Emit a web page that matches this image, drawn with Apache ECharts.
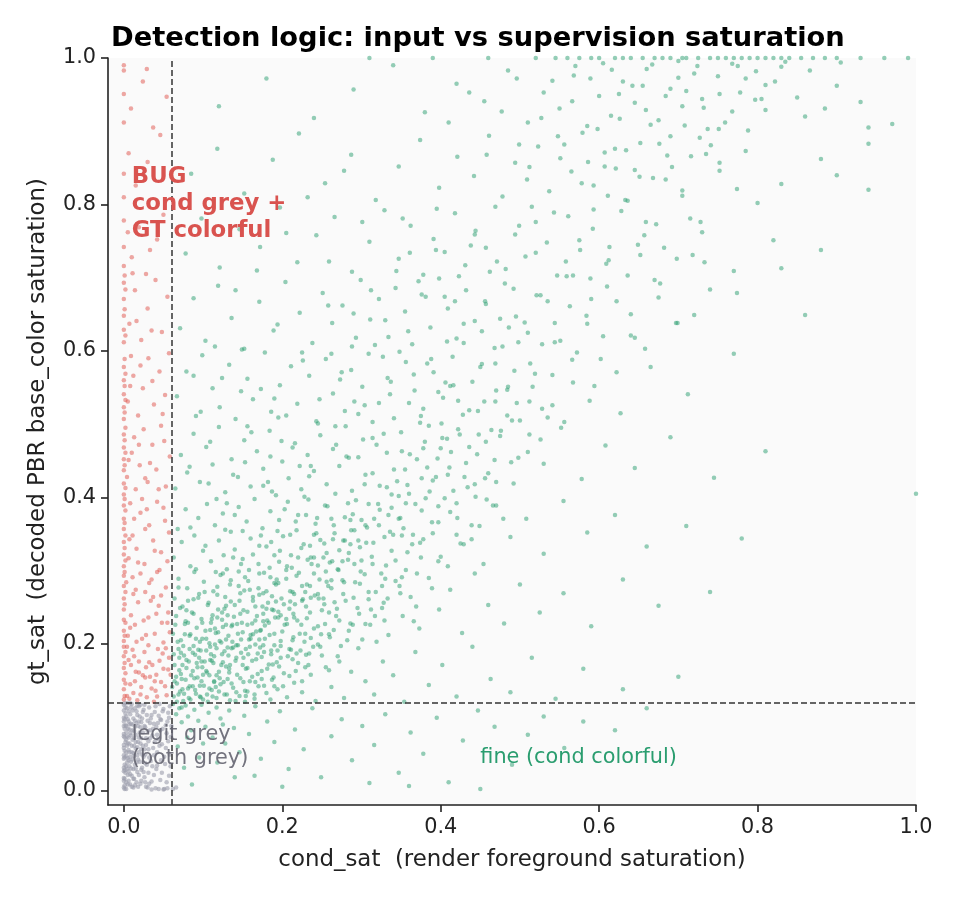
<!DOCTYPE html>
<html>
<head>
<meta charset="utf-8">
<script src="https://cdn.jsdelivr.net/npm/echarts@6/dist/echarts.min.js"></script>
<style>
html,body{margin:0;padding:0;background:#fff;}
#myChart{width:960px;height:900px;}
</style>
</head>
<body>
<div id="myChart"></div>
<script>
// ticks and thresholds
var xTicks = [0, 0.2, 0.4, 0.6, 0.8, 1.0];
var yTicks = [0, 0.2, 0.4, 0.6, 0.8, 1.0];
var condThresh = 0.06;
var gtThresh = 0.12;

// legit grey: cond grey and GT grey
var greyPts = [
[0,0.004],[0,0.013],[0,0.017],[0,0.026],[0,0.031],[0,0.043],[0,0.048],[0,0.058],[0,0.062],[0,0.074],[0,0.077],[0,0.088],[0,0.094],[0,0.099],[0,0.109],[0,0.117],
[0.003,0.002],[0.005,0.021],[0.004,0.038],[0.006,0.055],[0.003,0.069],[0.007,0.083],[0.005,0.097],[0.004,0.112],[0.008,0.008],[0.009,0.03],[0.008,0.046],[0.01,0.061],[0.009,0.075],[0.011,0.09],[0.008,0.104],[0.01,0.118],
[0.012,0.004],[0.013,0.016],[0.014,0.035],[0.012,0.051],[0.015,0.066],[0.013,0.081],[0.014,0.095],[0.016,0.108],[0.017,0.025],[0.018,0.042],[0.017,0.059],[0.019,0.072],[0.018,0.088],[0.02,0.101],[0.019,0.115],
[0.021,0.009],[0.022,0.028],[0.023,0.049],[0.021,0.064],[0.024,0.079],[0.022,0.093],[0.025,0.11],[0.026,0.018],[0.027,0.037],[0.026,0.056],[0.028,0.071],[0.027,0.086],[0.029,0.103],[0.03,0.004],
[0.031,0.024],[0.032,0.045],[0.031,0.067],[0.033,0.082],[0.034,0.098],[0.032,0.113],[0.035,0.012],[0.036,0.033],[0.037,0.058],[0.036,0.075],[0.038,0.091],[0.039,0.107],
[0.04,0.003],[0.041,0.029],[0.042,0.052],[0.043,0.07],[0.041,0.087],[0.044,0.102],[0.045,0.118],[0.046,0.014],[0.047,0.041],[0.048,0.063],[0.049,0.084],[0.047,0.096],[0.05,0.111],
[0.051,0.002],[0.052,0.036],[0.053,0.058],[0.054,0.078],[0.055,0.094],[0.056,0.106],[0.057,0.02],[0.058,0.049],[0.059,0.073],[0.058,0.115],
[0.035,0.001],[0.044,0.002],[0.05,0.001],[0.055,0.003],[0.062,0.002],[0.066,0.004],
[0.001,0.007],[0.002,0.024],[0.001,0.045],[0.002,0.066],[0.001,0.084],[0.002,0.105],[0.006,0.013],[0.007,0.033],[0.006,0.072],[0.007,0.09],[0.011,0.042],[0.012,0.098],
[0.015,0.057],[0.016,0.011],[0.02,0.079],[0.023,0.031],[0.024,0.107],[0.028,0.062],[0.033,0.092],[0.038,0.021],[0.042,0.076],[0.046,0.097],[0.003,0.052],[0.009,0.113],
[0.014,0.087],[0.018,0.005],[0.025,0.046],[0.03,0.081],[0.004,0.029],[0.005,0.084],[0.01,0.02],[0.011,0.069],[0.016,0.038],[0.019,0.094],[0.022,0.056],[0.027,0.011],
[0.002,0.089],[0.004,0.061],[0.006,0.041],[0.008,0.119],[0.012,0.029],[0.013,0.061],[0.017,0.103],[0.021,0.117],[0.005,0.008],[0.003,0.079],[0.001,0.035],[0.002,0.113],
[0.001,0.002],[0.001,0.016],[0.001,0.028],[0.001,0.054],[0.001,0.072],[0.001,0.097],[0.001,0.119],[0.003,0.011],[0.003,0.033],[0.003,0.047],[0.003,0.088],[0.003,0.101],
[0.004,0.074],[0.004,0.119],[0.005,0.044],[0.005,0.064],[0.006,0.026],[0.006,0.094],[0.006,0.108],[0.007,0.052],[0.007,0.064],[0.008,0.022],[0.008,0.078],[0.009,0.039],
[0.009,0.091],[0.01,0.005],[0.01,0.052],[0.011,0.082],[0.011,0.109],[0.012,0.016],[0.013,0.047],[0.013,0.071],[0.014,0.007],[0.014,0.112],[0.015,0.03],[0.015,0.076],
[0.016,0.092],[0.017,0.048],[0.017,0.116],[0.018,0.066],[0.019,0.021],[0.019,0.052],[0.02,0.039],[0.021,0.086],[0.022,0.071],[0.022,0.013],[0.023,0.098],[0.024,0.061],
[0.025,0.025],[0.026,0.088],[0.026,0.117],[0.027,0.049],[0.028,0.005],[0.029,0.035],[0.03,0.095],[0.031,0.056],[0.032,0.009],[0.033,0.071],[0.034,0.04],[0.035,0.103],
[0.037,0.084],[0.038,0.048],[0.039,0.066],[0.04,0.115],[0.042,0.034],[0.043,0.092],[0.045,0.061],[0.046,0.082],[0.048,0.024],[0.049,0.108],[0.051,0.046],[0.053,0.089],
[0.054,0.011],[0.056,0.067],[0.057,0.099],[0.059,0.033],[0.06,0.088]
];

// BUG: cond grey but GT colorful
var redPts = [
[0,0.124],[0,0.138],[0,0.151],[0,0.167],[0,0.183],[0,0.196],[0.004,0.129],[0.008,0.145],[0.012,0.133],[0.015,0.162],[0.019,0.176],[0.022,0.141],[0.026,0.189],[0.029,0.127],
[0.033,0.155],[0.036,0.171],[0.04,0.136],[0.043,0.193],[0.047,0.148],[0.05,0.166],[0.054,0.13],[0.057,0.181],[0.059,0.158],[0.006,0.178],[0.011,0.192],[0.017,0.123],
[0.024,0.157],[0.031,0.198],[0.038,0.121],[0.045,0.177],[0.052,0.142],[0.002,0.16],[0.009,0.171],[0.028,0.168],[0.041,0.158],
[0,0.204],[0,0.218],[0,0.233],[0,0.247],[0,0.262],[0,0.279],[0,0.293],[0.005,0.211],[0.009,0.239],[0.014,0.226],[0.018,0.257],[0.023,0.207],[0.027,0.271],[0.031,0.236],
[0.035,0.288],[0.039,0.214],[0.044,0.252],[0.048,0.229],[0.053,0.277],[0.056,0.243],[0.003,0.284],[0.012,0.268],[0.021,0.296],[0.042,0.298],[0.058,0.216],[0.016,0.203],
[0.034,0.259],[0.05,0.202],
[0,0.306],[0,0.322],[0,0.339],[0,0.357],[0,0.371],[0,0.389],[0.006,0.317],[0.011,0.348],[0.016,0.33],[0.021,0.379],[0.026,0.309],[0.032,0.362],[0.037,0.341],[0.042,0.394],
[0.047,0.325],[0.052,0.368],[0.057,0.352],[0.008,0.392],[0.029,0.384],[0.045,0.301],
[0,0.404],[0,0.419],[0,0.437],[0,0.452],[0,0.468],[0,0.486],[0.004,0.428],[0.01,0.461],[0.015,0.411],[0.02,0.444],[0.025,0.493],[0.03,0.421],[0.036,0.472],[0.041,0.438],
[0.047,0.498],[0.053,0.415],[0.058,0.456],[0.013,0.482],
[0,0.507],[0,0.523],[0,0.541],[0,0.56],[0,0.578],[0.005,0.531],[0.012,0.566],[0.018,0.512],[0.024,0.549],[0.031,0.59],[0.038,0.527],[0.045,0.572],[0.052,0.54],[0.057,0.597],[0.009,0.593],
[0,0.612],[0,0.629],[0,0.648],[0,0.671],[0,0.693],[0.007,0.637],[0.014,0.683],[0.022,0.615],[0.03,0.658],[0.04,0.697],[0.048,0.626],[0.055,0.674],
[0,0.716],[0,0.742],[0,0.778],[0.01,0.728],[0.019,0.769],[0.028,0.705],[0.042,0.752],[0.05,0.786],
[0,0.81],[0,0.842],[0.006,0.87],[0.015,0.826],[0.03,0.858],[0.046,0.895],
[0,0.912],[0,0.951],[0,0.983],[0.009,0.931],[0.024,0.968],[0.037,0.905],[0.054,0.947],[0.029,0.985],[0,0.99],
[0.001,0.129],[0.002,0.146],[0.001,0.174],[0.002,0.189],[0.001,0.211],[0.002,0.229],[0.001,0.254],[0.002,0.271],[0.001,0.298],[0.002,0.314],[0.001,0.331],[0.002,0.348],
[0.001,0.365],[0.002,0.382],[0.001,0.398],[0.002,0.413],[0.001,0.444],[0.002,0.461],[0.001,0.478],[0.002,0.495],[0.001,0.516],[0.002,0.533],[0.001,0.552],[0.002,0.569],
[0.001,0.589],[0.002,0.621],[0.001,0.657],[0.002,0.684],[0.001,0.703],
[0.007,0.125],[0.014,0.149],[0.021,0.131],[0.027,0.154],[0.035,0.139],[0.042,0.128],[0.049,0.187],[0.056,0.165],[0.013,0.183],[0.032,0.175],[0.004,0.196],[0.019,0.161],
[0.053,0.194],[0.039,0.149],
[0.008,0.222],[0.015,0.274],[0.025,0.232],[0.032,0.283],[0.041,0.241],[0.047,0.266],[0.055,0.229],[0.011,0.291],[0.028,0.212],[0.037,0.264],
[0.007,0.343],[0.018,0.311],[0.027,0.357],[0.039,0.327],[0.05,0.386],[0.055,0.313],[0.023,0.398],[0.013,0.371],
[0.006,0.451],[0.019,0.472],[0.033,0.447],[0.044,0.411],[0.051,0.477],[0.027,0.426],
[0.008,0.552],[0.021,0.58],[0.036,0.559],[0.049,0.514],[0.016,0.641],[0.035,0.628],[0.011,0.706],[0.033,0.738],[0.005,0.762]
];

// fine: cond colorful, read band by band
var greenBands = [
// below gt threshold
[0.062,0.118],[0.066,0.104],[0.07,0.112],[0.073,0.093],[0.078,0.116],[0.081,0.101],[0.085,0.082],[0.089,0.11],[0.094,0.095],[0.098,0.117],[0.103,0.087],[0.107,0.106],
[0.112,0.072],[0.117,0.113],[0.122,0.098],[0.128,0.064],[0.133,0.109],[0.139,0.085],[0.146,0.052],[0.152,0.102],[0.158,0.077],[0.166,0.115],[0.173,0.043],[0.181,0.094],
[0.19,0.066],[0.197,0.108],[0.208,0.029],[0.216,0.083],[0.227,0.056],[0.238,0.112],[0.249,0.018],[0.262,0.074],[0.275,0.097],[0.288,0.041],[0.301,0.088],[0.316,0.062],
[0.33,0.104],[0.347,0.024],[0.362,0.079],[0.378,0.05],[0.395,0.099],[0.41,0.011],[0.428,0.068],[0.447,0.109],[0.468,0.087],[0.49,0.035],[0.51,0.076],[0.53,0.101],
[0.556,0.058],[0.58,0.094],[0.62,0.082],[0.66,0.112],[0.068,0.06],[0.076,0.031],[0.095,0.045],[0.086,0.008],[0.14,0.018],[0.2,0.005],[0.118,0.038],[0.165,0.02],
[0.31,0.01],[0.36,0.006],[0.45,0.002],[0.08,0.072],[0.1,0.064],[0.125,0.09],
// 0.12 - 0.2
[0.063,0.128],[0.064,0.171],[0.067,0.146],[0.069,0.193],[0.071,0.135],[0.072,0.159],[0.075,0.122],[0.076,0.184],[0.078,0.151],[0.081,0.139],[0.082,0.176],[0.084,0.124],
[0.087,0.163],[0.088,0.197],[0.091,0.132],[0.093,0.154],[0.095,0.181],[0.097,0.127],[0.099,0.168],[0.101,0.143],[0.104,0.191],[0.106,0.121],[0.108,0.157],[0.111,0.137],
[0.113,0.174],[0.115,0.199],[0.117,0.126],[0.12,0.162],[0.122,0.145],[0.124,0.186],[0.127,0.131],[0.129,0.169],[0.131,0.152],[0.134,0.123],[0.136,0.194],[0.138,0.14],
[0.141,0.177],[0.143,0.158],[0.146,0.129],[0.148,0.188],[0.151,0.148],[0.154,0.166],[0.156,0.135],[0.159,0.196],[0.162,0.155],[0.165,0.125],[0.167,0.179],[0.17,0.142],
[0.174,0.163],[0.177,0.189],[0.18,0.133],[0.183,0.172],[0.187,0.151],[0.19,0.198],[0.194,0.138],[0.198,0.181],[0.202,0.16],[0.206,0.127],[0.211,0.192],[0.215,0.147],
[0.22,0.174],[0.225,0.134],[0.23,0.185],[0.236,0.158],[0.242,0.122],[0.248,0.196],[0.255,0.168],[0.262,0.141],[0.27,0.183],[0.278,0.126],[0.287,0.162],[0.296,0.194],
[0.305,0.149],[0.316,0.131],[0.327,0.176],[0.34,0.157],[0.354,0.121],[0.368,0.189],[0.385,0.144],[0.402,0.171],[0.42,0.128],[0.44,0.196],[0.463,0.152],[0.488,0.134],
[0.515,0.181],[0.545,0.125],[0.58,0.166],[0.63,0.138],[0.7,0.155],[0.073,0.113],[0.09,0.185],[0.11,0.186],[0.125,0.175],[0.153,0.121],[0.185,0.124],[0.098,0.149],
[0.133,0.161],[0.172,0.195],
// 0.2 - 0.3
[0.062,0.214],[0.064,0.262],[0.066,0.238],[0.069,0.289],[0.072,0.205],[0.074,0.251],[0.077,0.227],[0.08,0.276],[0.083,0.211],[0.086,0.243],[0.089,0.298],[0.092,0.222],
[0.095,0.268],[0.098,0.234],[0.101,0.285],[0.104,0.207],[0.107,0.256],[0.11,0.229],[0.113,0.272],[0.116,0.215],[0.119,0.247],[0.122,0.294],[0.125,0.223],[0.128,0.264],
[0.131,0.239],[0.134,0.281],[0.137,0.203],[0.14,0.253],[0.143,0.227],[0.147,0.269],[0.15,0.216],[0.153,0.291],[0.156,0.244],[0.16,0.207],[0.163,0.259],[0.166,0.232],
[0.17,0.276],[0.173,0.219],[0.177,0.297],[0.18,0.248],[0.184,0.212],[0.187,0.265],[0.191,0.236],[0.195,0.283],[0.198,0.204],[0.202,0.254],[0.206,0.227],[0.21,0.272],
[0.214,0.241],[0.218,0.293],[0.222,0.214],[0.226,0.261],[0.231,0.235],[0.235,0.279],[0.24,0.221],[0.245,0.268],[0.25,0.246],[0.255,0.299],[0.26,0.209],[0.266,0.257],
[0.272,0.232],[0.278,0.284],[0.284,0.218],[0.29,0.263],[0.297,0.241],[0.304,0.295],[0.311,0.226],[0.318,0.271],[0.326,0.249],[0.334,0.212],[0.343,0.286],[0.352,0.238],
[0.362,0.264],[0.373,0.221],[0.385,0.29],[0.398,0.247],[0.412,0.274],[0.427,0.215],[0.443,0.296],[0.46,0.253],[0.48,0.228],[0.5,0.281],[0.525,0.243],[0.555,0.269],
[0.59,0.224],[0.63,0.288],[0.675,0.252],[0.74,0.271],[0.108,0.201],[0.145,0.299],[0.176,0.241],[0.228,0.203],[0.262,0.287],[0.118,0.278],[0.192,0.258],
// 0.3 - 0.4
[0.063,0.318],[0.068,0.357],[0.073,0.339],[0.078,0.384],[0.084,0.306],[0.089,0.348],[0.094,0.372],[0.1,0.327],[0.105,0.391],[0.11,0.313],[0.115,0.362],[0.12,0.341],
[0.125,0.378],[0.13,0.302],[0.135,0.353],[0.14,0.329],[0.145,0.387],[0.15,0.316],[0.155,0.367],[0.16,0.344],[0.165,0.398],[0.17,0.309],[0.175,0.358],[0.18,0.333],
[0.185,0.381],[0.19,0.321],[0.196,0.369],[0.201,0.347],[0.207,0.394],[0.212,0.304],[0.218,0.355],[0.224,0.331],[0.23,0.376],[0.236,0.318],[0.242,0.364],[0.248,0.342],
[0.254,0.389],[0.26,0.311],[0.266,0.351],[0.272,0.328],[0.279,0.373],[0.286,0.336],[0.293,0.396],[0.3,0.314],[0.307,0.359],[0.315,0.338],[0.323,0.383],[0.331,0.307],
[0.34,0.349],[0.349,0.372],[0.358,0.325],[0.368,0.391],[0.378,0.343],[0.389,0.366],[0.4,0.319],[0.412,0.38],[0.425,0.337],[0.439,0.362],[0.454,0.309],[0.47,0.389],
[0.488,0.346],[0.508,0.371],[0.53,0.323],[0.555,0.395],[0.585,0.352],[0.62,0.376],[0.66,0.333],[0.71,0.361],[0.78,0.344],[0.117,0.398],[0.158,0.301],[0.203,0.384],
[0.245,0.307],[0.283,0.392],[0.128,0.356],[0.186,0.339],[0.233,0.397],[0.262,0.371],
// 0.4 - 0.5
[0.065,0.412],[0.072,0.458],[0.08,0.434],[0.088,0.487],[0.096,0.421],[0.104,0.469],[0.112,0.445],[0.12,0.496],[0.128,0.407],[0.136,0.452],[0.144,0.428],[0.152,0.478],
[0.16,0.415],[0.168,0.463],[0.176,0.439],[0.184,0.491],[0.192,0.403],[0.2,0.449],[0.208,0.426],[0.216,0.474],[0.224,0.411],[0.232,0.458],[0.24,0.436],[0.248,0.485],
[0.256,0.418],[0.264,0.466],[0.272,0.443],[0.28,0.497],[0.288,0.409],[0.296,0.455],[0.305,0.431],[0.314,0.481],[0.323,0.416],[0.332,0.461],[0.341,0.438],[0.35,0.489],
[0.36,0.405],[0.37,0.452],[0.38,0.476],[0.39,0.423],[0.4,0.467],[0.411,0.441],[0.422,0.493],[0.434,0.414],[0.446,0.459],[0.46,0.433],[0.475,0.484],[0.492,0.419],
[0.51,0.462],[0.53,0.446],[0.552,0.495],[0.578,0.425],[0.608,0.471],[0.645,0.44],[0.69,0.482],[0.745,0.427],[0.81,0.463],[1.0,0.405],[0.156,0.497],[0.228,0.401],
[0.302,0.479],[0.185,0.456],[0.345,0.422],[0.385,0.498],
// 0.5 - 0.6
[0.067,0.538],[0.079,0.572],[0.091,0.511],[0.099,0.594],[0.112,0.549],[0.121,0.523],[0.133,0.581],[0.141,0.507],[0.156,0.562],[0.163,0.534],[0.178,0.598],[0.186,0.517],
[0.197,0.553],[0.211,0.579],[0.219,0.528],[0.234,0.566],[0.243,0.504],[0.255,0.589],[0.264,0.542],[0.279,0.518],[0.287,0.574],[0.301,0.551],[0.309,0.596],[0.322,0.529],
[0.333,0.563],[0.341,0.508],[0.356,0.585],[0.367,0.546],[0.378,0.521],[0.391,0.571],[0.403,0.536],[0.415,0.592],[0.428,0.513],[0.44,0.558],[0.455,0.531],[0.469,0.583],
[0.484,0.547],[0.5,0.505],[0.519,0.569],[0.541,0.526],[0.566,0.588],[0.594,0.552],[0.627,0.515],[0.665,0.578],[0.712,0.541],[0.77,0.596],[0.225,0.598],[0.148,0.545],
[0.296,0.514],[0.348,0.599],[0.412,0.552],[0.273,0.561],[0.195,0.509],
// 0.6 - 0.7
[0.071,0.631],[0.088,0.672],[0.103,0.614],[0.119,0.689],[0.136,0.645],[0.152,0.603],[0.171,0.667],[0.189,0.628],[0.204,0.694],[0.222,0.652],[0.238,0.611],[0.251,0.679],
[0.263,0.638],[0.276,0.662],[0.288,0.606],[0.299,0.697],[0.311,0.643],[0.322,0.671],[0.334,0.619],[0.343,0.686],[0.355,0.654],[0.364,0.609],[0.376,0.677],[0.387,0.632],
[0.398,0.699],[0.409,0.658],[0.42,0.617],[0.432,0.683],[0.443,0.641],[0.456,0.668],[0.468,0.604],[0.481,0.692],[0.495,0.647],[0.51,0.625],[0.526,0.676],[0.544,0.612],
[0.563,0.661],[0.585,0.637],[0.61,0.688],[0.64,0.621],[0.675,0.673],[0.72,0.649],[0.317,0.608],[0.372,0.695],[0.452,0.627],[0.405,0.674],[0.29,0.651],
// 0.7 - 0.8
[0.078,0.733],[0.098,0.781],[0.121,0.714],[0.146,0.766],[0.172,0.742],[0.197,0.796],[0.219,0.721],[0.243,0.758],[0.266,0.783],[0.288,0.708],[0.31,0.749],[0.329,0.792],
[0.347,0.726],[0.362,0.771],[0.378,0.704],[0.391,0.753],[0.405,0.735],[0.418,0.788],[0.431,0.717],[0.444,0.764],[0.457,0.741],[0.469,0.797],[0.482,0.712],[0.494,0.759],
[0.507,0.729],[0.52,0.776],[0.534,0.748],[0.547,0.703],[0.561,0.784],[0.576,0.738],[0.592,0.767],[0.609,0.719],[0.628,0.791],[0.649,0.745],[0.672,0.773],[0.698,0.726],
[0.73,0.762],[0.77,0.709],[0.82,0.751],[0.88,0.738],[0.395,0.794],[0.462,0.708],[0.515,0.797],[0.558,0.722],[0.438,0.744],[0.352,0.781],
// 0.8 - 0.9
[0.085,0.842],[0.118,0.876],[0.152,0.815],[0.188,0.861],[0.221,0.897],[0.254,0.829],[0.287,0.868],[0.318,0.806],[0.347,0.852],[0.374,0.888],[0.398,0.823],[0.421,0.865],
[0.442,0.839],[0.461,0.894],[0.478,0.811],[0.494,0.857],[0.509,0.834],[0.523,0.879],[0.537,0.818],[0.551,0.863],[0.565,0.845],[0.579,0.898],[0.593,0.826],[0.607,0.871],
[0.621,0.849],[0.636,0.805],[0.652,0.884],[0.668,0.836],[0.686,0.867],[0.705,0.819],[0.727,0.891],[0.752,0.846],[0.785,0.873],[0.83,0.828],[0.88,0.862],[0.94,0.883],
[0.548,0.893],[0.611,0.812],[0.586,0.858],[0.499,0.882],[0.93,0.94],[0.97,0.91],[0.94,0.82],[0.9,0.84],
// 0.9 - 1.0
[0.12,0.934],[0.18,0.972],[0.24,0.918],[0.29,0.957],[0.34,0.99],[0.38,0.926],[0.42,0.965],[0.455,0.941],[0.485,0.983],[0.51,0.912],[0.53,0.953],[0.55,0.931],
[0.568,0.976],[0.585,0.907],[0.6,0.948],[0.615,0.921],[0.63,0.968],[0.645,0.939],[0.66,0.985],[0.675,0.915],[0.69,0.958],[0.705,0.934],[0.72,0.979],[0.737,0.903],
[0.752,0.951],[0.768,0.927],[0.785,0.972],[0.805,0.944],[0.83,0.988],[0.86,0.92],[0.9,0.962],[0.94,0.905],
[0.31,1.0],[0.39,1.0],[0.46,1.0],[0.52,1.0],[0.56,1.0],[0.59,1.0],[0.62,1.0],[0.64,1.0],[0.67,1.0],[0.69,1.0],[0.71,1.0],[0.74,1.0],
[0.76,1.0],[0.78,1.0],[0.8,1.0],[0.82,1.0],[0.84,1.0],[0.87,1.0],[0.9,1.0],[0.93,1.0],[0.96,1.0],[0.99,1.0],
[0.605,0.993],[0.655,0.962],[0.7,0.996],[0.73,0.944],[0.775,0.989],[0.81,0.963],[0.57,0.989],[0.625,0.951]
];

// fine: the dense core along the diagonal
var greenCore = [
[0.066,0.155],[0.07,0.181],[0.074,0.138],[0.079,0.167],[0.083,0.193],[0.087,0.142],[0.092,0.174],[0.096,0.203],[0.1,0.158],[0.105,0.131],[0.109,0.219],[0.114,0.149],
[0.118,0.236],[0.123,0.202],[0.127,0.248],[0.132,0.184],[0.137,0.226],[0.142,0.198],[0.147,0.241],[0.152,0.273],[0.157,0.186],[0.162,0.228],[0.166,0.251],[0.171,0.206],
[0.176,0.269],[0.181,0.232],[0.186,0.191],[0.19,0.283],[0.195,0.244],[0.2,0.217],[0.205,0.301],[0.21,0.258],[0.215,0.236],[0.22,0.318],[0.225,0.279],[0.23,0.251],
[0.235,0.334],[0.24,0.296],[0.246,0.262],[0.252,0.318],[0.258,0.279],[0.264,0.343],[0.27,0.302],[0.277,0.268],[0.284,0.324],[0.291,0.355],[0.298,0.282],[0.306,0.338],
[0.314,0.309],[0.322,0.362],[0.33,0.289],[0.338,0.327],[0.347,0.371],[0.356,0.301],[0.365,0.349],[0.375,0.318],[0.386,0.408],[0.397,0.366],[0.409,0.431],[0.42,0.392],
[0.432,0.447],[0.444,0.401],[0.457,0.476],[0.47,0.421],[0.484,0.512],[0.498,0.454],[0.512,0.531],[0.526,0.479],[0.541,0.567],[0.556,0.503],[0.572,0.598],[0.588,0.532],
[0.605,0.62],[0.622,0.571],[0.64,0.65],[0.658,0.603],[0.677,0.692],[0.697,0.638],[0.718,0.731],[0.74,0.684],
[0.061,0.141],[0.063,0.186],[0.065,0.226],[0.067,0.121],[0.068,0.203],[0.07,0.164],[0.071,0.249],[0.073,0.152],[0.075,0.197],[0.076,0.132],[0.078,0.231],[0.079,0.178],
[0.081,0.259],[0.082,0.126],[0.084,0.213],[0.085,0.157],[0.087,0.188],[0.088,0.241],[0.09,0.137],[0.091,0.207],[0.093,0.168],[0.094,0.263],[0.096,0.143],[0.097,0.191],
[0.099,0.229],[0.1,0.124],[0.102,0.176],[0.103,0.218],[0.105,0.161],[0.106,0.253],[0.108,0.139],[0.109,0.196],[0.111,0.234],[0.112,0.128],[0.114,0.183],[0.115,0.221],
[0.117,0.157],[0.118,0.267],[0.12,0.135],[0.121,0.204],[0.123,0.171],[0.124,0.243],[0.126,0.148],[0.127,0.19],[0.129,0.226],[0.13,0.131],[0.132,0.211],[0.133,0.166],
[0.135,0.258],[0.136,0.146],[0.138,0.195],[0.139,0.237],[0.141,0.122],[0.142,0.181],[0.144,0.214],[0.145,0.279],[0.147,0.153],[0.148,0.206],[0.15,0.171],[0.151,0.246],
[0.153,0.136],[0.154,0.193],[0.156,0.226],[0.157,0.286],[0.159,0.149],[0.16,0.212],[0.162,0.177],[0.163,0.264],[0.165,0.131],[0.166,0.199],[0.168,0.238],[0.169,0.159],
[0.171,0.296],[0.172,0.218],[0.174,0.182],[0.175,0.251],[0.177,0.143],[0.178,0.207],[0.18,0.272],[0.181,0.166],[0.183,0.229],[0.184,0.304],[0.186,0.186],[0.187,0.247],
[0.189,0.154],[0.19,0.214],[0.192,0.281],[0.193,0.175],[0.195,0.236],[0.196,0.312],[0.198,0.197],[0.199,0.262],[0.201,0.142],[0.203,0.226],[0.205,0.289],[0.207,0.183],
[0.209,0.248],[0.211,0.321],[0.213,0.205],[0.215,0.268],[0.217,0.163],[0.219,0.232],[0.221,0.297],[0.223,0.191],[0.225,0.259],[0.227,0.336],[0.229,0.214],[0.231,0.281],
[0.233,0.171],[0.235,0.243],[0.237,0.309],[0.239,0.196],[0.241,0.266],[0.243,0.351],[0.245,0.224],[0.247,0.288],[0.25,0.184],[0.253,0.254],[0.256,0.324],[0.259,0.213],
[0.262,0.276],[0.265,0.362],[0.268,0.238],[0.271,0.301],[0.274,0.197],[0.277,0.341],[0.28,0.259],[0.283,0.315],[0.286,0.228],[0.289,0.377],[0.292,0.284],[0.295,0.249],
[0.298,0.332],[0.301,0.206],[0.305,0.362],[0.309,0.271],[0.313,0.319],[0.317,0.238],[0.321,0.391],[0.325,0.296],[0.329,0.346],[0.333,0.262],[0.338,0.404],[0.343,0.314],
[0.348,0.279],[0.353,0.358],[0.358,0.417],[0.364,0.336],[0.37,0.296],[0.376,0.382],[0.383,0.441],[0.39,0.351],[0.397,0.313],[0.405,0.399],[0.413,0.462],[0.421,0.372],
[0.43,0.428],[0.439,0.343],[0.448,0.486],[0.458,0.397],[0.468,0.451],[0.479,0.371],[0.49,0.505]
];

// fine: a second pass over the dense core and the diagonal
var greenCore2 = [
[0.104,0.163],[0.142,0.134],[0.188,0.172],[0.117,0.194],[0.163,0.213],[0.209,0.156],[0.081,0.229],[0.129,0.252],[0.176,0.198],[0.224,0.226],[0.096,0.128],[0.151,0.181],
[0.198,0.239],[0.245,0.199],[0.072,0.188],[0.119,0.216],[0.166,0.148],[0.213,0.271],[0.259,0.243],[0.088,0.261],[0.135,0.287],[0.182,0.256],[0.229,0.168],[0.276,0.287],
[0.064,0.149],[0.111,0.177],[0.158,0.206],[0.205,0.234],[0.252,0.262],[0.299,0.299],[0.077,0.213],[0.124,0.233],[0.171,0.267],[0.218,0.187],[0.265,0.219],[0.312,0.247],
[0.091,0.302],[0.138,0.318],[0.185,0.291],[0.232,0.315],[0.279,0.341],[0.326,0.279],[0.103,0.334],[0.15,0.354],[0.197,0.327],[0.244,0.372],[0.291,0.309],[0.338,0.386],
[0.069,0.277],[0.116,0.298],[0.163,0.322],[0.21,0.349],[0.257,0.388],[0.304,0.418],[0.351,0.348],[0.083,0.142],[0.131,0.195],[0.178,0.225],[0.225,0.149],[0.272,0.176],
[0.319,0.203],[0.366,0.231],[0.099,0.207],[0.146,0.259],[0.193,0.288],[0.24,0.318],[0.287,0.355],[0.334,0.376],[0.381,0.399],[0.112,0.239],[0.159,0.274],[0.206,0.306],
[0.253,0.337],[0.3,0.369],[0.347,0.402],[0.394,0.428],[0.126,0.321],[0.173,0.348],[0.22,0.376],[0.267,0.405],[0.314,0.433],[0.361,0.459],[0.408,0.48],[0.14,0.376],
[0.187,0.408],[0.234,0.429],[0.281,0.456],[0.328,0.487],[0.375,0.511],[0.422,0.532],[0.074,0.171],[0.094,0.192],[0.114,0.148],[0.134,0.171],[0.154,0.129],[0.174,0.152],
[0.194,0.191],[0.214,0.209],[0.234,0.187],[0.254,0.227],[0.069,0.131],[0.089,0.153],[0.109,0.178],[0.129,0.206],[0.149,0.229],[0.169,0.187],[0.189,0.246],[0.209,0.193],
[0.229,0.271],[0.249,0.213],[0.269,0.248],[0.289,0.226],[0.309,0.261],[0.329,0.232],[0.349,0.269],[0.369,0.251],[0.389,0.276],[0.409,0.306],[0.429,0.336],[0.449,0.361],
[0.116,0.141],[0.136,0.224],[0.156,0.167],[0.176,0.231],[0.196,0.169],[0.216,0.254],[0.236,0.263],[0.256,0.285],[0.276,0.313],[0.296,0.341],[0.316,0.371],[0.336,0.353],
[0.356,0.392],[0.376,0.426],[0.396,0.453],[0.416,0.409],[0.436,0.469],[0.456,0.426],[0.476,0.491],[0.496,0.529],[0.098,0.176],[0.121,0.153],[0.144,0.198],[0.167,0.217],
[0.19,0.142],[0.213,0.179],[0.236,0.208],[0.259,0.164],[0.282,0.205],[0.305,0.227],[0.328,0.256],[0.351,0.291],[0.374,0.338],[0.397,0.388],[0.42,0.349],[0.443,0.418],
[0.466,0.389],[0.489,0.448],[0.512,0.486],[0.535,0.509],[0.079,0.246],[0.102,0.271],[0.125,0.296],[0.148,0.309],[0.171,0.334],[0.194,0.354],[0.217,0.367],[0.24,0.349],
[0.263,0.313],[0.286,0.369],[0.309,0.391],[0.332,0.414],[0.355,0.438],[0.378,0.467],[0.401,0.501],[0.424,0.486],[0.447,0.518],[0.47,0.546],[0.493,0.573],[0.516,0.551],
[0.084,0.359],[0.107,0.419],[0.13,0.392],[0.153,0.448],[0.176,0.416],[0.199,0.477],[0.222,0.443],[0.245,0.501],[0.268,0.472],[0.291,0.531],[0.314,0.503],[0.337,0.558],
[0.36,0.529],[0.383,0.583],[0.406,0.557],[0.429,0.611],[0.452,0.582],[0.475,0.644],[0.498,0.612],[0.521,0.676],[0.544,0.638],[0.567,0.703],[0.59,0.671],[0.613,0.742],
[0.636,0.703],[0.659,0.776],[0.682,0.741],[0.705,0.812],[0.728,0.776],[0.751,0.903],[0.774,0.821],[0.797,0.943],[0.62,0.876],[0.665,0.909],[0.71,0.955],[0.735,0.869],
[0.69,0.893],[0.645,0.847]
];

// fine: the middle and upper spread
var greenUpper = [
[0.083,0.442],[0.097,0.517],[0.109,0.476],[0.124,0.563],[0.138,0.431],[0.149,0.602],[0.161,0.489],[0.173,0.548],[0.182,0.421],[0.194,0.636],[0.205,0.512],[0.213,0.468],
[0.226,0.587],[0.236,0.443],[0.247,0.534],[0.258,0.662],[0.267,0.497],[0.275,0.571],[0.284,0.454],[0.293,0.618],[0.304,0.526],[0.312,0.683],[0.319,0.472],[0.327,0.592],
[0.336,0.541],[0.344,0.709],[0.351,0.463],[0.359,0.627],[0.366,0.568],[0.374,0.502],[0.381,0.674],[0.388,0.589],[0.394,0.738],[0.402,0.481],[0.408,0.613],[0.416,0.553],
[0.423,0.702],[0.429,0.637],[0.436,0.519],[0.443,0.759],[0.45,0.578],[0.457,0.664],[0.464,0.492],[0.471,0.722],[0.478,0.606],[0.485,0.551],[0.492,0.685],[0.499,0.771],
[0.506,0.639],[0.513,0.583],[0.52,0.734],[0.528,0.521],[0.535,0.668],[0.543,0.789],[0.551,0.614],[0.559,0.702],[0.567,0.557],[0.575,0.751],[0.584,0.648],[0.593,0.793],
[0.602,0.589],[0.612,0.724],[0.622,0.668],[0.633,0.806],[0.645,0.618],[0.657,0.758],[0.67,0.697],[0.684,0.834],[0.699,0.638],[0.715,0.781],[0.733,0.721],[0.752,0.857],
[0.774,0.679],[0.8,0.802],[0.83,0.713],[0.86,0.649],[0.168,0.71],[0.205,0.761],[0.141,0.683],[0.259,0.722],[0.232,0.81],[0.301,0.776],[0.278,0.846],[0.115,0.606],
[0.088,0.566],[0.19,0.535],[0.262,0.596],[0.33,0.642],[0.397,0.544],[0.361,0.734],[0.469,0.531],[0.528,0.609],[0.589,0.699],[0.652,0.731],[0.418,0.668],[0.486,0.632],
[0.41,0.912],[0.436,0.953],[0.458,0.868],[0.477,0.927],[0.496,0.972],[0.512,0.851],[0.527,0.918],[0.541,0.969],[0.556,0.882],[0.566,0.941],[0.578,0.829],[0.589,0.972],
[0.598,0.903],[0.607,0.852],[0.616,0.984],[0.626,0.917],[0.634,0.874],[0.642,0.962],[0.651,0.838],[0.659,0.929],[0.667,0.991],[0.676,0.883],[0.684,0.948],[0.692,0.851],
[0.7,0.973],[0.708,0.908],[0.716,0.866],[0.724,0.989],[0.732,0.932],[0.741,0.881],[0.75,0.975],[0.759,0.912],[0.768,0.992],[0.778,0.953],[0.788,0.901],[0.798,0.982],
[0.81,0.929],[0.822,0.968],[0.835,0.995],[0.85,0.946],[0.866,0.983],[0.885,0.931],[0.905,0.994],[0.63,1.0],[0.655,1.0],[0.68,1.0],[0.705,1.0],[0.725,1.0],
[0.75,1.0],[0.77,1.0],[0.79,1.0],[0.81,1.0],[0.83,1.0],[0.855,1.0],[0.885,1.0],[0.545,1.0],[0.575,1.0],[0.6,1.0]
];

var font = 'DejaVu Sans';
var worldMapContainer = document.getElementById('myChart');
var myChart = echarts.init(worldMapContainer);

function axisCommon(ticks) {
  return {
    type: 'value',
    min: -0.02,
    max: 1.0,
    splitLine: { show: false },
    axisLine: { show: true, onZero: false, lineStyle: { color: '#222', width: 1.6 } },
    axisTick: { show: true, inside: false, length: 7, lineStyle: { color: '#222', width: 1.6 }, customValues: ticks },
    axisLabel: {
      show: true, margin: 12, color: '#222', fontFamily: font, fontSize: 20.8,
      customValues: ticks,
      formatter: function (v) { return v.toFixed(1); }
    },
    nameLocation: 'middle',
    nameTextStyle: { color: '#222', fontFamily: font, fontSize: 22.9 }
  };
}

var xAxis = axisCommon(xTicks);
xAxis.name = 'cond_sat  (render foreground saturation)';
xAxis.nameGap = 44;
var yAxis = axisCommon(yTicks);
yAxis.name = 'gt_sat  (decoded PBR base_color saturation)';
yAxis.nameGap = 58;

var greenStyle = { color: '#2a9d6f', opacity: 0.5 };

var option = {
  animation: false,
  backgroundColor: '#fff',
  title: {
    text: 'Detection logic: input vs supervision saturation',
    left: 106, top: 20,
    textStyle: { fontFamily: font, fontSize: 27.3, fontWeight: 'bold', color: '#000' }
  },
  grid: { left: 108, right: 44, top: 58, bottom: 95, show: true, backgroundColor: '#fafafa', borderWidth: 0 },
  xAxis: xAxis,
  yAxis: yAxis,
  series: [
    { name: 'legit grey', type: 'scatter', data: greyPts, symbolSize: 4.5,
      itemStyle: { color: '#9b9dab', opacity: 0.6 }, silent: true },
    { name: 'bug', type: 'scatter', data: redPts, symbolSize: 4.5,
      itemStyle: { color: '#e0524a', opacity: 0.5 }, silent: true },
    { name: 'fine', type: 'scatter', data: greenBands, symbolSize: 4.5, itemStyle: greenStyle, silent: true },
    { name: 'fine core', type: 'scatter', data: greenCore, symbolSize: 4.5, itemStyle: greenStyle, silent: true },
    { name: 'fine core 2', type: 'scatter', data: greenCore2, symbolSize: 4.5, itemStyle: greenStyle, silent: true },
    { name: 'fine upper', type: 'scatter', data: greenUpper, symbolSize: 4.5, itemStyle: greenStyle, silent: true,
      markLine: {
        silent: true, symbol: 'none', animation: false,
        label: { show: false },
        lineStyle: { color: '#333', width: 1.5, type: [6, 3] },
        data: [{ xAxis: condThresh }, { yAxis: gtThresh }]
      }
    }
  ]
};
myChart.setOption(option);

// region annotations, placed in data coordinates
var pBug = myChart.convertToPixel({ gridIndex: 0 }, [0.01, 0.80]);
var pGrey = myChart.convertToPixel({ gridIndex: 0 }, [0.01, 0.06]);
var pFine = myChart.convertToPixel({ gridIndex: 0 }, [0.45, 0.045]);
myChart.setOption({
  graphic: [
    { type: 'text', x: pBug[0], y: pBug[1], z: 100,
      style: { text: 'BUG\ncond grey +\nGT colorful', fill: '#d9534f', font: 'bold 22.8px "DejaVu Sans"',
               lineHeight: 27, verticalAlign: 'middle', align: 'left' } },
    { type: 'text', x: pGrey[0], y: pGrey[1], z: 100,
      style: { text: 'legit grey\n(both grey)', fill: 'rgba(100,100,112,0.9)', font: '20.8px "DejaVu Sans"',
               lineHeight: 24, verticalAlign: 'middle', align: 'left' } },
    { type: 'text', x: pFine[0], y: pFine[1], z: 100,
      style: { text: 'fine (cond colorful)', fill: '#2a9d6f', font: '20.8px "DejaVu Sans"',
               verticalAlign: 'middle', align: 'left' } }
  ]
});
</script>
</body>
</html>
